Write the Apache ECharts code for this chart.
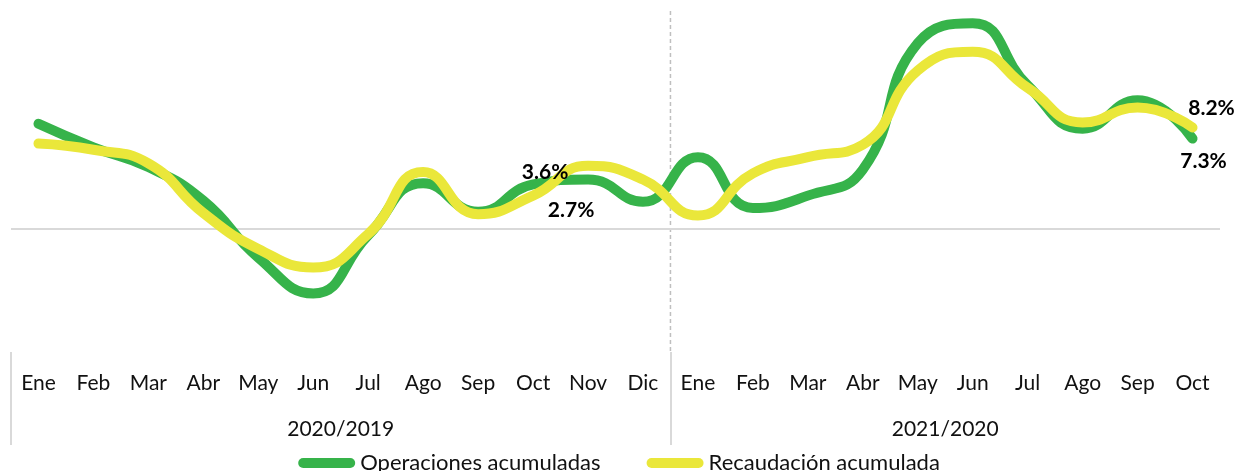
<!DOCTYPE html>
<html>
<head>
<meta charset="utf-8">
<script src="https://cdn.jsdelivr.net/npm/echarts@6/dist/echarts.min.js"></script>
<style>
  html, body { margin: 0; padding: 0; background: #fff; }
  #chart { width: 1238px; height: 471px; }
</style>
</head>
<body>
<div id="chart"></div>
<script>
// Month categories for two consecutive comparison periods
const months = ['Ene','Feb','Mar','Abr','May','Jun','Jul','Ago','Sep','Oct','Nov','Dic',
                'Ene','Feb','Mar','Abr','May','Jun','Jul','Ago','Sep','Oct'];
// Period groups and how many months each one covers
const groups = ['2020/2019', '2021/2020'];
const groupSizes = [12, 10];

// Cumulative year-over-year variation (%)
const operaciones = [8.5, 6.6, 5.0, 2.3, -2.3, -5.2, -0.5, 3.7, 1.4, 3.6, 4.0, 2.2,
                     5.8, 1.7, 2.7, 4.8, 15.0, 16.6, 11.6, 8.1, 10.4, 7.3];
const recaudacion = [6.9, 6.4, 5.3, 1.3, -1.6, -3.1, -0.4, 4.6, 1.2, 2.7, 5.1, 4.0,
                     1.1, 4.5, 5.8, 6.8, 12.8, 14.3, 11.4, 8.6, 9.8, 8.2];

// Points that carry a value label: index -> [position, offset]
const opLabels = { 9: ['top', [12, 4]], 21: ['bottom', [11, 6]] };
const reLabels = { 9: ['bottom', [38, -2]], 21: ['top', [19, -3]] };

const GREEN = '#36B34A';
const YELLOW = '#EAE73A';
const FONT = 'Lato';

function withLabels(values, labels) {
  return values.map((v, i) => {
    if (!labels[i]) return v;
    return {
      value: v,
      label: {
        show: true,
        position: labels[i][0],
        offset: labels[i][1],
        formatter: '{c}%',
        fontFamily: FONT,
        fontWeight: 'bold',
        fontSize: 21,
        color: '#000'
      }
    };
  });
}

// Group boundaries and centres on a 0..N scale spanning the category bands
const boundaries = [0];
const centres = [];
groupSizes.reduce((acc, n) => {
  centres.push(acc + n / 2);
  boundaries.push(acc + n);
  return acc + n;
}, 0);
const total = boundaries[boundaries.length - 1];

const chart = echarts.init(document.getElementById('chart'), null, { renderer: 'canvas' });

// Shared line styling; only labelled points keep a (tiny, same-colour) marker
function lineSeries(name, values, labels, color) {
  return {
    name: name,
    type: 'line',
    xAxisIndex: 0,
    smooth: 0.5,
    symbol: 'circle',
    symbolSize: (val, params) => (labels[params.dataIndex] ? 2 : 0),
    showSymbol: true,
    showAllSymbol: true,
    data: withLabels(values, labels),
    lineStyle: { color: color, width: 10, cap: 'round', join: 'round' },
    itemStyle: { color: color },
    emphasis: { disabled: true },
    z: 3
  };
}

const opSeries = lineSeries('Operaciones acumuladas', operaciones, opLabels, GREEN);
opSeries.markLine = {
  silent: true,
  z: 1,
  symbol: 'none',
  label: { show: false },
  lineStyle: { color: '#D9D9D9', width: 2, type: 'solid' },
  data: [{ yAxis: 0 }]
};
const reSeries = lineSeries('Recaudación acumulada', recaudacion, reLabels, YELLOW);

chart.setOption({
  animation: false,
  backgroundColor: '#fff',
  grid: { left: 11, right: 18, top: 6, bottom: 118, containLabel: false },
  xAxis: [
    {
      type: 'category',
      data: months,
      boundaryGap: true,
      axisLine: { show: false },
      axisTick: { show: false },
      splitLine: { show: false },
      axisLabel: {
        interval: 0,
        margin: 20,
        fontFamily: FONT,
        fontSize: 21,
        color: '#111'
      }
    },
    {
      type: 'value',
      position: 'bottom',
      offset: 92,
      min: 0,
      max: total,
      axisLine: { show: false },
      splitLine: { show: false },
      axisTick: {
        show: true,
        inside: true,
        length: 93,
        customValues: boundaries.slice(0, -1),
        lineStyle: { color: '#D9D9D9', width: 2 }
      },
      axisLabel: {
        inside: true,
        margin: 5,
        customValues: centres,
        formatter: (v) => groups[centres.indexOf(v)] || '',
        fontFamily: FONT,
        fontSize: 21,
        color: '#111'
      }
    }
  ],
  yAxis: {
    type: 'value',
    min: -10,
    max: 18,
    show: false
  },
  legend: {
    left: 'center',
    top: 447,
    itemWidth: 57,
    itemHeight: 10,
    itemGap: 46,
    icon: 'path://M5,0 H52 A5,5 0 0 1 52,10 H5 A5,5 0 0 1 5,0 Z',
    textStyle: { fontFamily: FONT, fontSize: 22, color: '#111' },
    data: ['Operaciones acumuladas', 'Recaudación acumulada']
  },
  series: [opSeries, reSeries]
});

// Dashed separator between the two periods, placed from the axis scale
const sepX = chart.convertToPixel({ xAxisIndex: 1 }, boundaries[1]);
const topY = chart.convertToPixel({ yAxisIndex: 0 }, 17.6);
const botY = chart.convertToPixel({ yAxisIndex: 0 }, -10);
chart.setOption({
  graphic: [{
    type: 'line',
    z: 0,
    silent: true,
    shape: { x1: sepX, y1: topY, x2: sepX, y2: botY },
    style: { stroke: '#BFBFBF', lineWidth: 1.5, lineDash: [4, 3] }
  }]
});
</script>
</body>
</html>
